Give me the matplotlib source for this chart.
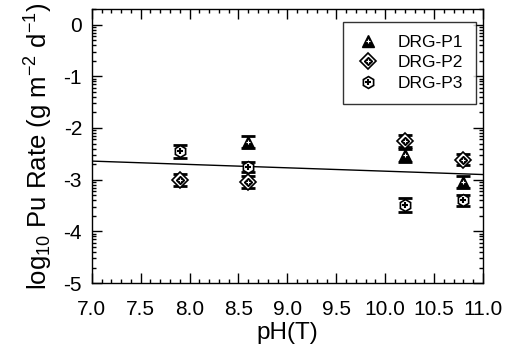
import matplotlib
matplotlib.use('Agg')
import matplotlib.pyplot as plt
from matplotlib.ticker import FixedLocator, MultipleLocator
import numpy as np

plt.rcParams['font.family'] = ['Liberation Sans', 'DejaVu Sans']
plt.rcParams['mathtext.fontset'] = 'custom'
plt.rcParams['mathtext.rm'] = 'Liberation Sans'
plt.rcParams['mathtext.default'] = 'regular'
plt.rcParams['axes.unicode_minus'] = False

# --- data ---
p1_ph = [8.6, 10.2, 10.8]
p1_rate = [-2.27, -2.53, -3.04]
p1_err = [0.12, 0.13, 0.12]

p2_ph = [7.9, 8.6, 10.2, 10.8]
p2_rate = [-3.00, -3.04, -2.25, -2.61]
p2_err = [0.12, 0.12, 0.11, 0.10]

p3_ph = [7.9, 8.6, 10.2, 10.8]
p3_rate = [-2.45, -2.75, -3.49, -3.40]
p3_err = [0.13, 0.10, 0.13, 0.11]

fit_ph = [7.0, 11.0]
fit_rate = [-2.64, -2.90]

fig = plt.figure(figsize=(5.10, 3.58), dpi=100)
ax = fig.add_axes([0.180, 0.209, 0.767, 0.766])

ax.plot(fit_ph, fit_rate, color='black', lw=1.0, zorder=1)

eb = dict(fmt='none', ecolor='black', elinewidth=1.3, capsize=5, capthick=2, zorder=2)
ax.errorbar(p1_ph, p1_rate, yerr=p1_err, **eb)
ax.errorbar(p2_ph, p2_rate, yerr=p2_err, **eb)
ax.errorbar(p3_ph, p3_rate, yerr=p3_err, **eb)

# DRG-P1: filled triangle with faint plus
t1, = ax.plot(p1_ph, p1_rate, ls='none', marker='^', ms=8.5, mfc='black', mec='black', zorder=3)
t2, = ax.plot(p1_ph, p1_rate, ls='none', marker='+', ms=3, mew=0.8, color='white', zorder=4)
# DRG-P2: diamond in diamond with plus
d1, = ax.plot(p2_ph, p2_rate, ls='none', marker='D', ms=8, mfc='white', mec='black', mew=1.2, zorder=3)
d2, = ax.plot(p2_ph, p2_rate, ls='none', marker='D', ms=4.5, mfc='black', mec='black', zorder=4)
d3, = ax.plot(p2_ph, p2_rate, ls='none', marker='+', ms=3, mew=0.8, color='white', zorder=5)
# DRG-P3: hexagon with plus
h1, = ax.plot(p3_ph, p3_rate, ls='none', marker='h', ms=8.5, mfc='white', mec='black', mew=1.2, zorder=3)
h2, = ax.plot(p3_ph, p3_rate, ls='none', marker='+', ms=4, mew=1.5, color='black', zorder=4)

ax.set_xlim(7.0, 11.0)
ax.set_ylim(-5, np.log10(2))
ax.xaxis.set_minor_locator(MultipleLocator(0.1))
ax.set_yticks([0, -1, -2, -3, -4, -5])
ax.set_xticks(np.arange(7.0, 11.01, 0.5))
ax.set_xticklabels(['%.1f' % v for v in np.arange(7.0, 11.01, 0.5)])
ax.yaxis.set_minor_locator(FixedLocator([n + np.log10(k) for n in range(-5, 1) for k in range(2, 10)]))

ax.tick_params(which='both', direction='in', top=True, right=True, labelsize=15, width=1)
ax.tick_params(which='major', length=7)
ax.tick_params(which='minor', length=3)
ax.tick_params(axis='x', which='major', pad=12)
ax.tick_params(axis='y', which='major', pad=7)
for s in ax.spines.values():
    s.set_linewidth(1.0)

ax.set_xlabel('pH(T)', fontsize=17.5, labelpad=2)
ax.set_ylabel('log$_{10}$ Pu Rate (g m$^{-2}$ d$^{-1}$)', fontsize=18.5, labelpad=6)

leg = ax.legend([(t1, t2), (d1, d2, d3), (h1, h2)], ['DRG-P1', 'DRG-P2', 'DRG-P3'],
                loc='upper right', bbox_to_anchor=(0.982, 0.953), fontsize=12.5,
                frameon=True, fancybox=False, edgecolor='black', borderpad=0.75,
                handlelength=1.4, handletextpad=1.0, labelspacing=0.3, borderaxespad=0)
leg.get_frame().set_linewidth(1.0)

fig.savefig('out.png', dpi=100)
